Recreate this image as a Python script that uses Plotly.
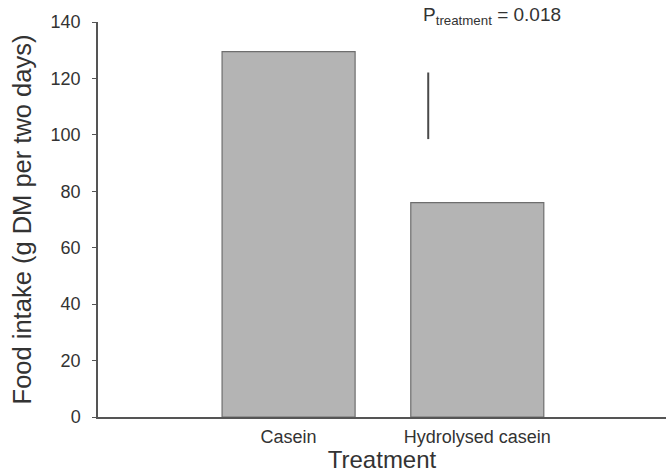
import plotly.graph_objects as go

categories = ["Casein", "Hydrolysed casein"]
intake = [129.5, 76]
# pooled SE bar drawn beside the second bar
se_pos = [0.74]
se_mid = [110.3]
se_half = [11.8]
y_ticks = [0, 20, 40, 60, 80, 100, 120, 140]

xpos = list(range(len(categories)))

fig = go.Figure()
fig.add_trace(go.Bar(
    x=xpos, y=intake, width=0.705,
    marker=dict(color="#b4b4b4", line=dict(color="#6e6e6e", width=1.2)),
    showlegend=False, hoverinfo="skip",
))
fig.add_trace(go.Scatter(
    x=se_pos, y=se_mid, mode="markers",
    marker=dict(size=0.1, color="rgba(0,0,0,0)"),
    error_y=dict(type="data", array=se_half, visible=True, width=0,
                 color="#4a4a4a", thickness=2),
    showlegend=False, hoverinfo="skip",
))

fig.add_annotation(
    text="P<sub>treatment</sub> = 0.018",
    xref="x", yref="paper", x=0.70, y=1.015,
    xanchor="left", yanchor="middle", showarrow=False,
    font=dict(family="Liberation Sans, Arial", size=19, color="#333333"),
)

fig.update_layout(
    width=669, height=473,
    margin=dict(l=98, r=3, t=22, b=56),
    paper_bgcolor="white", plot_bgcolor="white",
    font=dict(family="Liberation Sans, Arial", color="#333333"),
    xaxis=dict(
        range=[-1.01, 2.0], tickvals=xpos, ticktext=categories,
        showline=True, linecolor="#555555", linewidth=1.5,
        showgrid=False, zeroline=False, ticks="", automargin=False,
        tickfont=dict(size=18), ticklabelstandoff=3,
        title=dict(text="Treatment", font=dict(size=24), standoff=0),
    ),
    yaxis=dict(
        range=[0, 140], tickvals=y_ticks,
        showline=True, linecolor="#555555", linewidth=1.5,
        showgrid=False, zeroline=False, ticks="outside", ticklen=4,
        tickcolor="#555555", tickfont=dict(size=18), automargin=False,
        ticklabelstandoff=8,
        title=dict(text="Food intake (g DM per two days)", font=dict(size=25.5), standoff=12),
    ),
)

fig.write_html("out.html", config={"displayModeBar": False},
               post_script="document.body.style.margin='0';")
